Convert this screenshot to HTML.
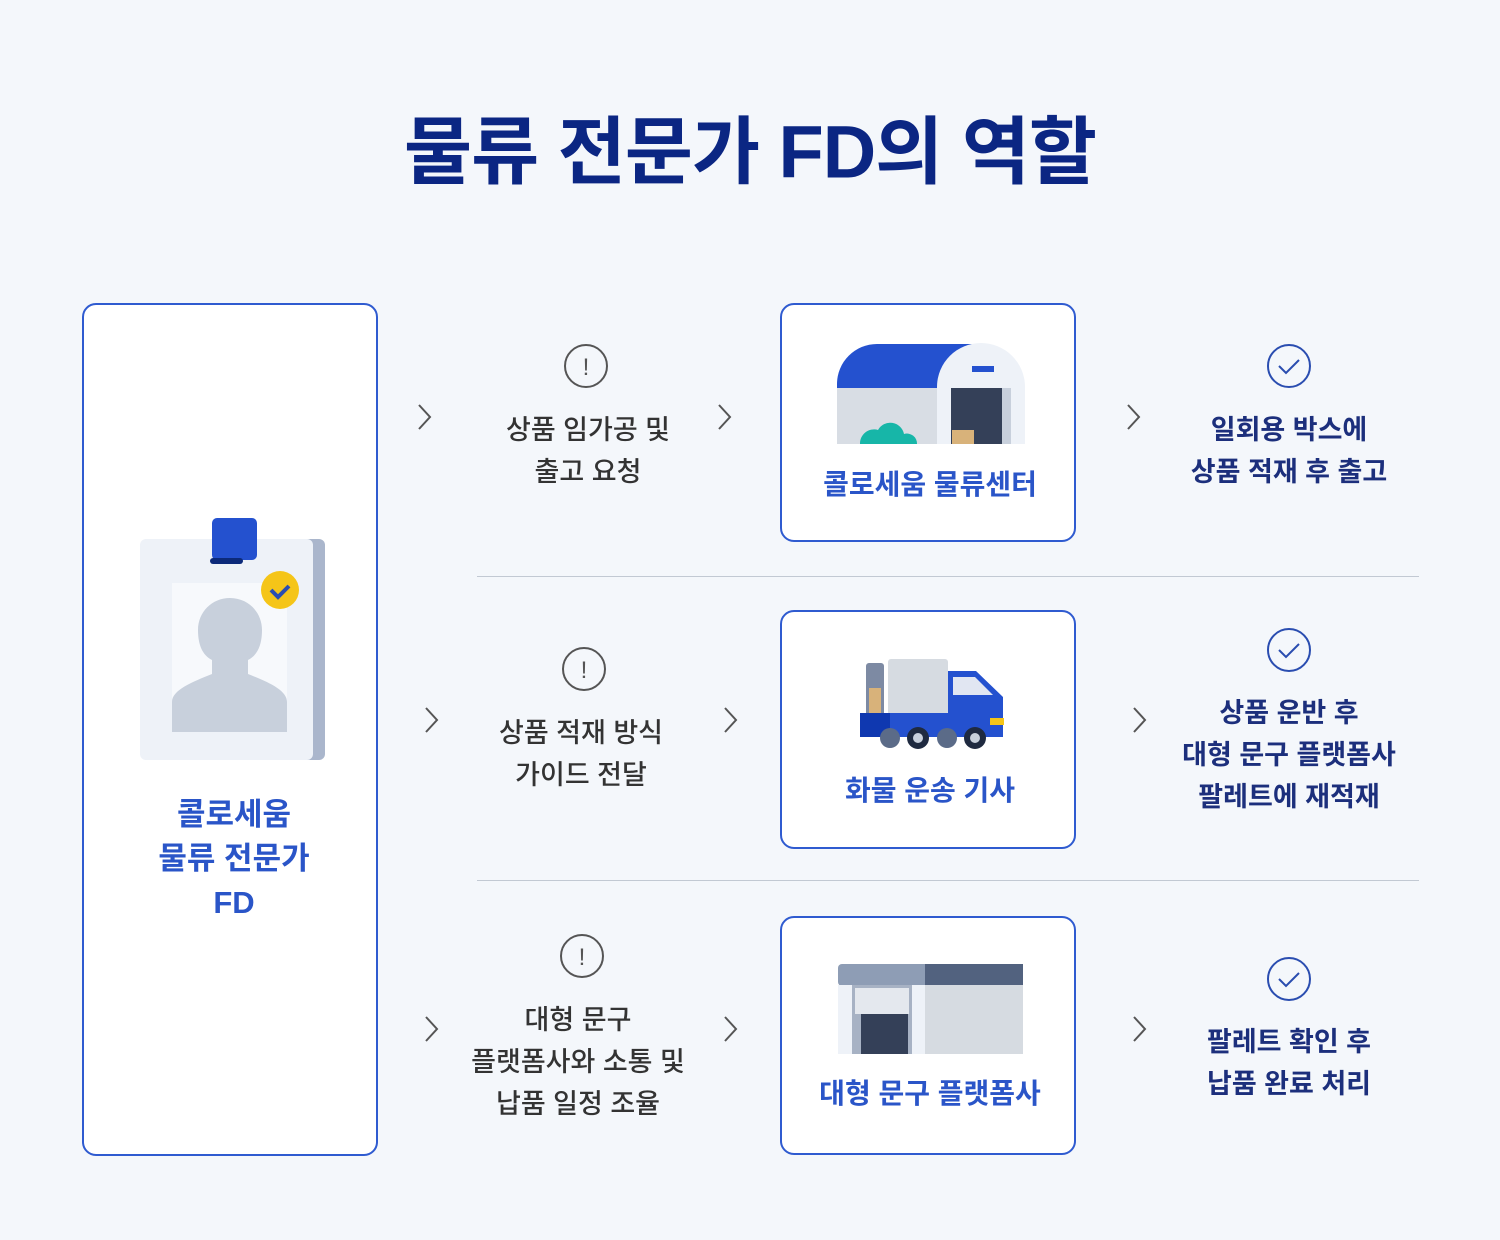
<!DOCTYPE html>
<html><head><meta charset="utf-8"><style>
*{margin:0;padding:0;box-sizing:border-box}
body{width:1500px;height:1240px;background:#f4f7fb;font-family:"Liberation Sans","Noto Sans CJK KR",sans-serif;position:relative;overflow:hidden}
.a{position:absolute}
.t{position:absolute;text-align:center;font-weight:700;white-space:nowrap;transform:translate(-50%,-50%)}
.box{position:absolute;background:#fff;border:2px solid #2f5bd0;border-radius:14px}
.mid{font-size:27px;color:#333;line-height:42px;font-weight:500}
.rt{font-size:27px;color:#1c2f7c;line-height:42px}
.bl{font-size:28px;color:#2a55c8;font-weight:600}
.line{position:absolute;left:477px;width:942px;height:1px;background:#c2c9d3}
</style></head><body>
<div class="t" style="left:750px;top:146px;font-size:74px;color:#0b2683;font-weight:700;letter-spacing:-1px">물류 전문가 FD의 역할</div>

<div class="box" style="left:82px;top:303px;width:296px;height:853px"></div>
<div class="box" style="left:780px;top:303px;width:296px;height:239px"></div>
<div class="box" style="left:780px;top:610px;width:296px;height:239px"></div>
<div class="box" style="left:780px;top:916px;width:296px;height:239px"></div>
<div class="line" style="top:576px"></div>
<div class="line" style="top:880px"></div>

<svg class="a" style="left:0;top:0" width="1500" height="1240">
<g fill="none" stroke="#555" stroke-width="2">
<path d="M419 405l11 12-11 12M719 405l11 12-11 12M1128 405l11 12-11 12"/>
<path d="M426 708l11 12-11 12M725 708l11 12-11 12M1134 708l11 12-11 12"/>
<path d="M426 1017l11 12-11 12M725 1017l11 12-11 12M1134 1017l11 12-11 12"/>
</g>
<g fill="none" stroke="#555" stroke-width="2">
<circle cx="586" cy="366" r="21"/><circle cx="584" cy="669" r="21"/><circle cx="582" cy="956" r="21"/>
</g>
<g fill="#555" font-family="Liberation Sans" font-size="24" text-anchor="middle">
<text x="586" y="375">!</text><text x="584" y="678">!</text><text x="582" y="965">!</text>
</g>
<g fill="none" stroke="#2a4db0" stroke-width="2">
<circle cx="1289" cy="366" r="21"/><circle cx="1289" cy="650" r="21"/><circle cx="1289" cy="979" r="21"/>
<path d="M1279 366l7 7 13-13M1279 650l7 7 13-13M1279 979l7 7 13-13"/>
</g>
<rect x="146" y="539" width="179" height="221" rx="6" fill="#aab6cc"/>
<rect x="140" y="539" width="173" height="221" rx="6" fill="#eef2f8"/>
<rect x="172" y="583" width="115" height="149" fill="#f7f9fc"/>
<path d="M172 732v-30c0-12 20-20 40-28v-14c-12-6-14-20-14-30 0-18 14-32 32-32s32 14 32 32c0 10-2 24-14 30v14c20 8 39 16 39 28v30z" fill="#c8d0dc"/>
<rect x="212" y="518" width="45" height="42" rx="5" fill="#2451cf"/>
<rect x="210" y="558" width="33" height="6" rx="3" fill="#0c2a7a"/>
<circle cx="280" cy="590" r="19" fill="#f5c518"/>
<path d="M271 590l7 7 11-11" stroke="#2a4db0" stroke-width="4" fill="none"/>
<path d="M837 444v-60a40 40 0 0 1 40-40h108v100z" fill="#2451cf"/>
<rect x="837" y="388" width="110" height="56" fill="#d8dde4"/>
<path d="M937 444v-57a44 44 0 0 1 88 0v57z" fill="#eef2f8"/>
<rect x="951" y="388" width="60" height="56" fill="#c8d0dc"/>
<rect x="951" y="388" width="51" height="56" fill="#344058"/>
<rect x="952" y="430" width="22" height="14" fill="#d8b27a"/>
<path d="M860 444a14 14 0 0 1 18-14a14 14 0 0 1 26 4a10 10 0 0 1 13 10z" fill="#17b6a8"/>
<rect x="972" y="366" width="22" height="6" fill="#2451cf"/>
<rect x="866" y="663" width="18" height="55" rx="3" fill="#7d8aa3"/>
<rect x="888" y="659" width="60" height="56" rx="3" fill="#d6dbe1"/>
<rect x="869" y="688" width="12" height="27" fill="#d8b27a"/>
<path d="M860 713h88v-42h28l27 26v40h-115z" fill="#2451cf"/>
<rect x="860" y="713" width="30" height="24" fill="#0f38b0"/>
<path d="M953 677h22l18 18h-40z" fill="#e1e6f2"/>
<rect x="990" y="718" width="14" height="7" fill="#f5c518"/>
<g fill="#5b6b88"><circle cx="890" cy="738" r="10"/><circle cx="947" cy="738" r="10"/></g>
<g fill="#1f2a40"><circle cx="918" cy="738" r="11"/><circle cx="975" cy="738" r="11"/></g>
<g fill="#c8d0dc"><circle cx="918" cy="738" r="5"/><circle cx="975" cy="738" r="5"/></g>
<rect x="838" y="964" width="185" height="22" rx="4" fill="#8e9db5"/>
<rect x="925" y="964" width="98" height="22" fill="#52627f"/>
<rect x="838" y="985" width="87" height="69" fill="#eef2f8"/>
<rect x="925" y="985" width="98" height="69" fill="#d6dbe1"/>
<rect x="852" y="985" width="60" height="69" fill="#a7b2c4"/>
<rect x="855" y="988" width="54" height="26" fill="#e4e8ee"/>
<rect x="861" y="1014" width="47" height="40" fill="#344058"/>
</svg>

<div class="t bl" style="left:234px;top:859px;font-size:31px;line-height:44px">콜로세움<br>물류 전문가<br>FD</div>

<div class="t mid" style="left:588px;top:451px">상품 임가공 및<br>출고 요청</div>
<div class="t mid" style="left:581px;top:754px">상품 적재 방식<br>가이드 전달</div>
<div class="t mid" style="left:578px;top:1062px">대형 문구<br>플랫폼사와 소통 및<br>납품 일정 조율</div>

<div class="t bl" style="left:930px;top:483px">콜로세움 물류센터</div>
<div class="t bl" style="left:930px;top:789px">화물 운송 기사</div>
<div class="t bl" style="left:930px;top:1092px">대형 문구 플랫폼사</div>

<div class="t rt" style="left:1289px;top:451px">일회용 박스에<br>상품 적재 후 출고</div>
<div class="t rt" style="left:1289px;top:755px">상품 운반 후<br>대형 문구 플랫폼사<br>팔레트에 재적재</div>
<div class="t rt" style="left:1289px;top:1063px">팔레트 확인 후<br>납품 완료 처리</div>
</body></html>
